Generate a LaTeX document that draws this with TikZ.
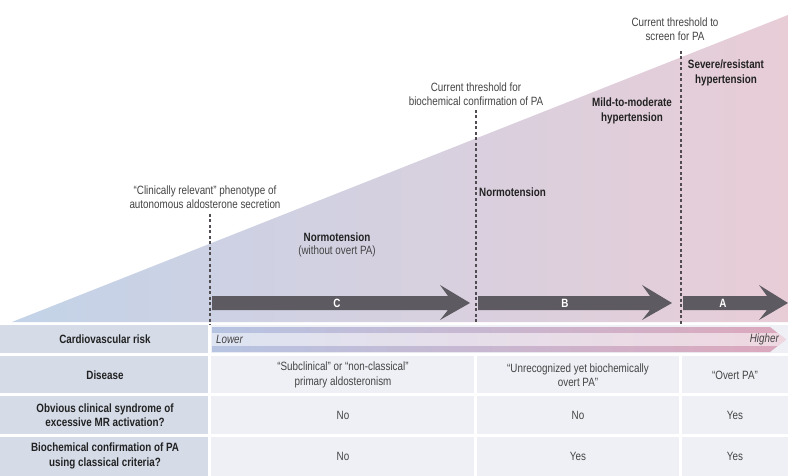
\documentclass[tikz,border=0pt]{standalone}
\usepackage{fontspec}
\setmainfont{Liberation Sans}[FakeStretch=0.82]
\definecolor{triL}{HTML}{C3D3E8}
\definecolor{triM}{HTML}{D9D5E4}
\definecolor{triR}{HTML}{E8CDD7}
\definecolor{labcell}{HTML}{D5DCE8}
\definecolor{datcell}{HTML}{EEF0F5}
\definecolor{darrow}{HTML}{5E5A61}
\definecolor{riskL}{HTML}{B6C4E2}
\definecolor{riskR}{HTML}{DCA8BC}
\definecolor{txtc}{HTML}{444444}
\definecolor{boldc}{HTML}{222222}
\tikzset{
  txt/.style={text=txtc, align=center, inner sep=0pt, font=\fontsize{12}{14.5}\selectfont},
  btxt/.style={text=boldc, align=center, inner sep=0pt, font=\fontsize{12}{14.5}\selectfont\bfseries},
  itxt/.style={text=txtc, inner sep=0pt, font=\fontsize{12}{14.5}\selectfont\itshape},
  arrlabel/.style={text=white, inner sep=0pt, font=\fontsize{12}{14.5}\selectfont\bfseries},
  dline/.style={dashed, dash pattern=on 3pt off 2.5pt, line width=1.1pt, draw=darrow!85!black},
  labfill/.style={fill=labcell},
  datfill/.style={fill=datcell},
}
\begin{document}
\begin{tikzpicture}[x=1pt,y=-1pt]
\useasboundingbox (0,0) rectangle (788,476);
\fill[white] (0,0) rectangle (788,476);
% triangle
\shade[left color=triL, middle color=triM, right color=triR] (12,322) -- (788,15) -- (788,322) -- cycle;

% dashed threshold lines
\coordinate (d1t) at (210,214); \coordinate (d1b) at (210,325);
\coordinate (d2t) at (476,110); \coordinate (d2b) at (476,325);
\coordinate (d3t) at (681,51);  \coordinate (d3b) at (681,325);
\draw[dline] (d1t) -- (d1b);
\draw[dline] (d2t) -- (d2b);
\draw[dline] (d3t) -- (d3b);

% dark arrows
\newcommand{\darkarrow}[3]{%
  \fill[darrow] (#1,296) -- (#2+8,296) -- (#2,285) -- (#3,303) -- (#2,320) -- (#2+8,310) -- (#1,310) -- cycle;}
\darkarrow{212}{440}{470}
\darkarrow{478}{642}{672}
\darkarrow{683}{759}{788}
\node[arrlabel] (C) at (337,303) {C};
\node[arrlabel] (B) at (565,303) {B};
\node[arrlabel] (A) at (723,303) {A};

% annotations
\node[txt] (clin) at (205,197) {“Clinically relevant” phenotype of\\autonomous aldosterone secretion};
\node[txt] (conf) at (476,94) {Current threshold for\\biochemical confirmation of PA};
\node[txt] (scr) at (675,29) {Current threshold to\\screen for PA};
\node[btxt] (sev) at (726,73) {Severe/resistant\\hypertension};
\node[btxt] (mild) at (632,111) {Mild-to-moderate\\hypertension};
\node[btxt, anchor=west] (normB) at (479,192) {Normotension};
\node[btxt] (normC) at (337,237) {Normotension};
\node[txt] (normCsub) at (337,251) {(without overt PA)};

% table cells
\fill[labfill] (0,325) rectangle (208,353);
\fill[datfill] (211,325) rectangle (788,353);
\fill[labfill] (0,356) rectangle (208,393);
\fill[datfill] (211,356) rectangle (474,393);
\fill[datfill] (477,356) rectangle (679,393);
\fill[datfill] (682,356) rectangle (788,393);
\fill[labfill] (0,396) rectangle (208,434);
\fill[datfill] (211,396) rectangle (474,434);
\fill[datfill] (477,396) rectangle (679,434);
\fill[datfill] (682,396) rectangle (788,434);
\fill[labfill] (0,437) rectangle (208,476);
\fill[datfill] (211,437) rectangle (474,476);
\fill[datfill] (477,437) rectangle (679,476);
\fill[datfill] (682,437) rectangle (788,476);

% risk arrow
\shade[left color=riskL, right color=riskR] (212,327) -- (770,327) -- (786,339.5) -- (770,352) -- (212,352) -- cycle;
\begin{scope}
\clip (212,327) -- (770,327) -- (786,339.5) -- (770,352) -- (212,352) -- cycle;
\fill[white, opacity=0.55] (200,333) rectangle (790,346);
\end{scope}

% table text
\node[btxt] (r1) at (105,339) {Cardiovascular risk};
\node[itxt, anchor=west] (lower) at (216,339) {Lower};
\node[itxt, anchor=east] (higher) at (779,339) {Higher};
\node[btxt] (r2) at (105,375) {Disease};
\node[txt] (r2c) at (343,375) {“Subclinical” or “non-classical”\\primary aldosteronism};
\node[txt] (r2b) at (578,375) {“Unrecognized yet biochemically\\overt PA”};
\node[txt] (r2a) at (735,375) {“Overt PA”};
\node[btxt] (r3) at (105,415) {Obvious clinical syndrome of\\excessive MR activation?};
\node[txt] (r3c) at (343,415) {No};
\node[txt] (r3b) at (578,415) {No};
\node[txt] (r3a) at (735,415) {Yes};
\node[btxt] (r4) at (105,456) {Biochemical confirmation of PA\\using classical criteria?};
\node[txt] (r4c) at (343,456) {No};
\node[txt] (r4b) at (578,456) {Yes};
\node[txt] (r4a) at (735,456) {Yes};
\end{tikzpicture}
\end{document}
